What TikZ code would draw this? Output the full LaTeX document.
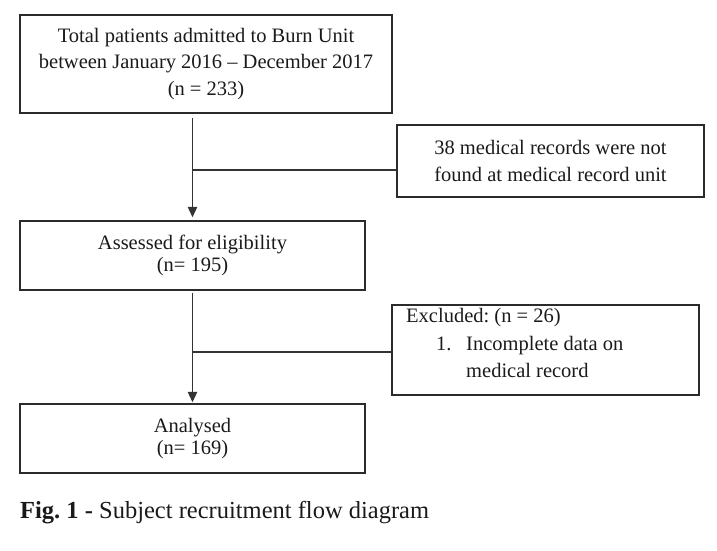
\documentclass[tikz,border=0pt]{standalone}
\usepackage{fontspec}
\setmainfont{Liberation Serif}
\usetikzlibrary{arrows.meta}
\definecolor{boxc}{HTML}{2B2B2B}
\definecolor{linec}{HTML}{333333}
\definecolor{txt}{HTML}{1A1A1A}
\begin{document}
\frenchspacing
\begin{tikzpicture}[x=1pt,y=-1pt,
  box/.style={draw=boxc, line width=1.5pt, inner sep=0pt, align=center, text=txt},
  wide/.style={font=\fontsize{20.5}{26.5}\selectfont},
  tight/.style={font=\fontsize{20.5}{22.5}\selectfont},
  conn/.style={draw=linec, line width=1.1pt},
  arr/.style={conn, -{Triangle[width=9.5pt,length=10.5pt]}}
]
\useasboundingbox (0,0) rectangle (717,550);

\node[box, wide, minimum width=372pt, minimum height=98pt] (total) at (206,64)
  {Total patients admitted to Burn Unit\\between January 2016 -- December 2017\\(n = 233)};
\node[box, wide, minimum width=307pt, minimum height=72pt] (missing) at (550.5,161)
  {38 medical records were not\\found at medical record unit};
\node[box, tight, minimum width=345pt, minimum height=69pt] (assessed) at (192.5,255.5)
  {Assessed for eligibility\\(n= 195)};
\node[box, minimum width=307pt, minimum height=90pt] (excluded) at (545.5,350) {};
\node[anchor=north west, inner sep=0pt, align=left, text=txt,
  font=\fontsize{20.5}{27.5}\selectfont] (exclist) at (406,308.5)
  {Excluded: (n = 26)\\\hspace*{30pt}\makebox[30pt][l]{1.}Incomplete data on\\\hspace*{60pt}medical record};
\node[box, tight, minimum width=345pt, minimum height=69pt] (analysed) at (192.5,438.5)
  {Analysed\\(n= 169)};

\coordinate (j1) at (192.5,170);
\coordinate (j2) at (192.5,352);
\draw[arr, shorten <=4pt, shorten >=3pt] (total.south -| assessed.north) -- (assessed.north);
\draw[conn] (j1) -- (j1 -| missing.west);
\draw[arr, shorten <=2pt, shorten >=1pt] (assessed.south) -- (analysed.north);
\draw[conn] (j2) -- (j2 -| excluded.west);

\node[anchor=base west, inner sep=0pt, text=txt, font=\fontsize{24.5}{28}\selectfont] (caption) at (20,518)
  {\textbf{Fig. 1 -} Subject recruitment flow diagram};
\end{tikzpicture}
\end{document}
